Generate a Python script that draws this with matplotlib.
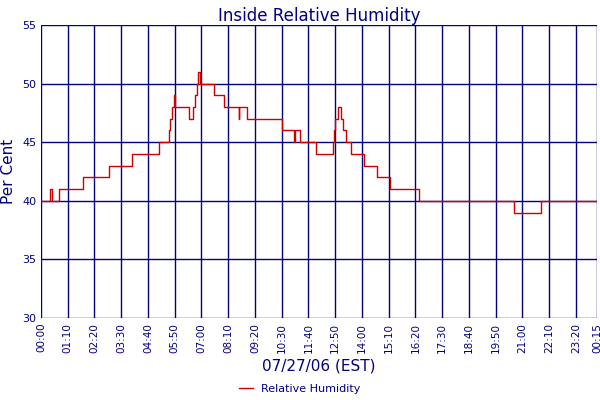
import matplotlib
matplotlib.use("Agg")
import matplotlib.pyplot as plt

minutes = [0, 24, 29, 35, 47, 110, 177, 237, 310, 334, 338, 343, 347, 351, 359, 387, 398,
           403, 407, 411, 416, 424, 452, 480, 517, 519, 521, 539, 630, 661, 665, 678, 720,
           763, 766, 770, 777, 784, 790, 797, 810, 825, 845, 878, 914, 990, 1238, 1309, 1455]
humidity = [40, 41, 40, 40, 41, 42, 43, 44, 45, 46, 47, 48, 49, 48, 48, 47, 48,
            49, 50, 51, 50, 50, 49, 48, 47, 48, 48, 47, 46, 45, 46, 45, 44,
            45, 46, 47, 48, 47, 46, 45, 44, 44, 43, 42, 41, 40, 39, 40, 40]
tick_minutes = list(range(0, 1401, 70)) + [1455]
tick_labels = ["%02d:%02d" % ((m // 60) % 24, m % 60) for m in tick_minutes]

navy = "#000080"
fig = plt.figure(figsize=(6, 4), dpi=100)
ax = fig.add_axes([41/600, 82/400, 556/600, 293/400])
for m in tick_minutes:
    ax.axvline(m, color=navy, lw=1, zorder=1)
for y in range(30, 56, 5):
    ax.axhline(y, color=navy, lw=1, zorder=1)
ax.step(minutes, humidity, where="post", color="#cc0000", lw=1, zorder=3,
        label="Relative Humidity")
ax.set_xlim(0, 1455)
ax.set_ylim(30, 55)
ax.set_xticks(tick_minutes)
ax.set_xticklabels(tick_labels, rotation=90, fontsize=7.5, color=navy)
ax.set_yticks(range(30, 56, 5))
ax.tick_params(axis="y", labelsize=8, colors=navy, length=0)
ax.tick_params(axis="x", length=0)
for s in ax.spines.values():
    s.set_visible(False)
ax.set_title("Inside Relative Humidity", color=navy, fontsize=12, pad=3)
ax.set_ylabel("Per Cent", color=navy, fontsize=11)
ax.set_xlabel("07/27/06 (EST)", color=navy, fontsize=11, labelpad=4)
fig.legend(loc="lower center", bbox_to_anchor=(0.5, -0.01), frameon=False,
           fontsize=8, labelcolor=navy, handlelength=1.2)
fig.savefig("out.png")
